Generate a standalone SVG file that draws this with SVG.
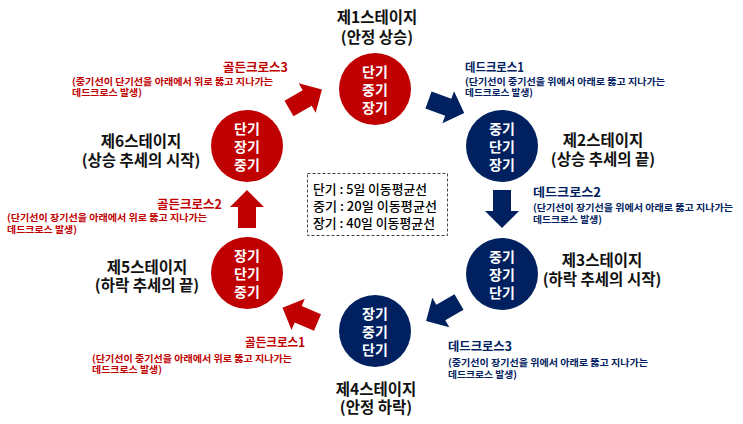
<svg xmlns="http://www.w3.org/2000/svg" xmlns:xlink="http://www.w3.org/1999/xlink" width="743" height="424" viewBox="0 0 743 424">
<style>
text { font-family: "Noto Sans CJK KR", "Noto Sans", sans-serif; }
.title { font-size: 15.5px; font-weight: bold; fill: #111; text-anchor: middle; }
.ctext { font-size: 14px; font-weight: bold; fill: #fff; text-anchor: middle; }
.cross { font-size: 12.5px; font-weight: bold; }
.note { font-size: 9.6px; font-weight: bold; }
.r { fill: #C00000; }
.n { fill: #002060; }
.legend { font-size: 13px; font-weight: 500; fill: #000; }
</style>
<defs>
<polygon id="arr" points="0,-9 21,-9 21,-17 38,0 21,17 21,9 0,9"/>
</defs>
<rect width="743" height="424" fill="#fff"/>

<g id="connectors">
<use xlink:href="#arr" class="r" transform="translate(289,108.5) rotate(-30)"/>
<use xlink:href="#arr" class="n" transform="translate(428.5,100) rotate(20)"/>
<use xlink:href="#arr" class="n" transform="translate(502,190) rotate(90)"/>
<use xlink:href="#arr" class="n" transform="translate(459,302) rotate(150)"/>
<use xlink:href="#arr" class="r" transform="translate(317.5,322.5) rotate(203)"/>
<use xlink:href="#arr" class="r" transform="translate(247,228) rotate(-90)"/>
</g>

<g id="stage1">
<circle cx="375" cy="89" r="36" class="r"/>
<text class="ctext" x="375" y="77">단기</text>
<text class="ctext" x="375" y="95">중기</text>
<text class="ctext" x="375" y="113">장기</text>
<text class="title" x="377" y="23">제1스테이지</text>
<text class="title" x="377" y="43">(안정 상승)</text>
</g>

<g id="stage2">
<circle cx="502" cy="146" r="36" class="n"/>
<text class="ctext" x="502" y="134">중기</text>
<text class="ctext" x="502" y="152">단기</text>
<text class="ctext" x="502" y="170">장기</text>
<text class="title" x="603" y="146">제2스테이지</text>
<text class="title" x="603" y="165">(상승 추세의 끝)</text>
</g>

<g id="stage3">
<circle cx="502" cy="274" r="36" class="n"/>
<text class="ctext" x="502" y="262">중기</text>
<text class="ctext" x="502" y="280">장기</text>
<text class="ctext" x="502" y="298">단기</text>
<text class="title" x="602" y="266">제3스테이지</text>
<text class="title" x="602" y="285">(하락 추세의 시작)</text>
</g>

<g id="stage4">
<circle cx="375" cy="331" r="36" class="n"/>
<text class="ctext" x="375" y="319">장기</text>
<text class="ctext" x="375" y="337">중기</text>
<text class="ctext" x="375" y="355">단기</text>
<text class="title" x="376" y="395">제4스테이지</text>
<text class="title" x="376" y="413">(안정 하락)</text>
</g>

<g id="stage5">
<circle cx="247" cy="273" r="36" class="r"/>
<text class="ctext" x="247" y="261">장기</text>
<text class="ctext" x="247" y="279">단기</text>
<text class="ctext" x="247" y="297">중기</text>
<text class="title" x="147" y="273">제5스테이지</text>
<text class="title" x="147" y="291">(하락 추세의 끝)</text>
</g>

<g id="stage6">
<circle cx="247" cy="146" r="36" class="r"/>
<text class="ctext" x="247" y="134">단기</text>
<text class="ctext" x="247" y="152">장기</text>
<text class="ctext" x="247" y="170">중기</text>
<text class="title" x="141" y="147">제6스테이지</text>
<text class="title" x="141" y="166">(상승 추세의 시작)</text>
</g>

<g id="label-golden3">
<text class="cross r" x="288" y="72" text-anchor="end" textLength="65" lengthAdjust="spacingAndGlyphs">골든크로스3</text>
<text class="note r" x="72" y="85" textLength="201" lengthAdjust="spacingAndGlyphs">(중기선이 단기선을 아래에서 위로 뚫고 지나가는</text>
<text class="note r" x="72" y="95.5" textLength="70" lengthAdjust="spacingAndGlyphs">데드크로스 발생)</text>
</g>

<g id="label-dead1">
<text class="cross n" x="465" y="72" textLength="59" lengthAdjust="spacingAndGlyphs">데드크로스1</text>
<text class="note n" x="465" y="85" textLength="200" lengthAdjust="spacingAndGlyphs">(단기선이 중기선을 위에서 아래로 뚫고 지나가는</text>
<text class="note n" x="465" y="96" textLength="68" lengthAdjust="spacingAndGlyphs">데드크로스 발생)</text>
</g>

<g id="label-dead2">
<text class="cross n" x="533" y="197" textLength="68" lengthAdjust="spacingAndGlyphs">데드크로스2</text>
<text class="note n" x="533" y="211" textLength="200" lengthAdjust="spacingAndGlyphs">(단기선이 장기선을 위에서 아래로 뚫고 지나가는</text>
<text class="note n" x="533" y="222.5" textLength="69" lengthAdjust="spacingAndGlyphs">데드크로스 발생)</text>
</g>

<g id="label-dead3">
<text class="cross n" x="448" y="350.5" textLength="64" lengthAdjust="spacingAndGlyphs">데드크로스3</text>
<text class="note n" x="448" y="366" textLength="200" lengthAdjust="spacingAndGlyphs">(중기선이 장기선을 위에서 아래로 뚫고 지나가는</text>
<text class="note n" x="448" y="377.5" textLength="69" lengthAdjust="spacingAndGlyphs">데드크로스 발생)</text>
</g>

<g id="label-golden1">
<text class="cross r" x="305" y="347" text-anchor="end" textLength="60" lengthAdjust="spacingAndGlyphs">골든크로스1</text>
<text class="note r" x="92" y="361.5" textLength="200" lengthAdjust="spacingAndGlyphs">(단기선이 중기선을 아래에서 위로 뚫고 지나가는</text>
<text class="note r" x="92" y="373" textLength="70" lengthAdjust="spacingAndGlyphs">데드크로스 발생)</text>
</g>

<g id="label-golden2">
<text class="cross r" x="222" y="208.5" text-anchor="end" textLength="65" lengthAdjust="spacingAndGlyphs">골든크로스2</text>
<text class="note r" x="7" y="221" textLength="200" lengthAdjust="spacingAndGlyphs">(단기선이 장기선을 아래에서 위로 뚫고 지나가는</text>
<text class="note r" x="7" y="232.5" textLength="70" lengthAdjust="spacingAndGlyphs">데드크로스 발생)</text>
</g>

<g id="legend">
<rect x="307.5" y="173.5" width="140" height="62" fill="none" stroke="#444" stroke-width="1" stroke-dasharray="3,2"/>
<text class="legend" x="313" y="194" textLength="114" lengthAdjust="spacingAndGlyphs">단기 : 5일 이동평균선</text>
<text class="legend" x="313" y="211" textLength="124" lengthAdjust="spacingAndGlyphs">중기 : 20일 이동평균선</text>
<text class="legend" x="313" y="227.5" textLength="122" lengthAdjust="spacingAndGlyphs">장기 : 40일 이동평균선</text>
</g>
</svg>
